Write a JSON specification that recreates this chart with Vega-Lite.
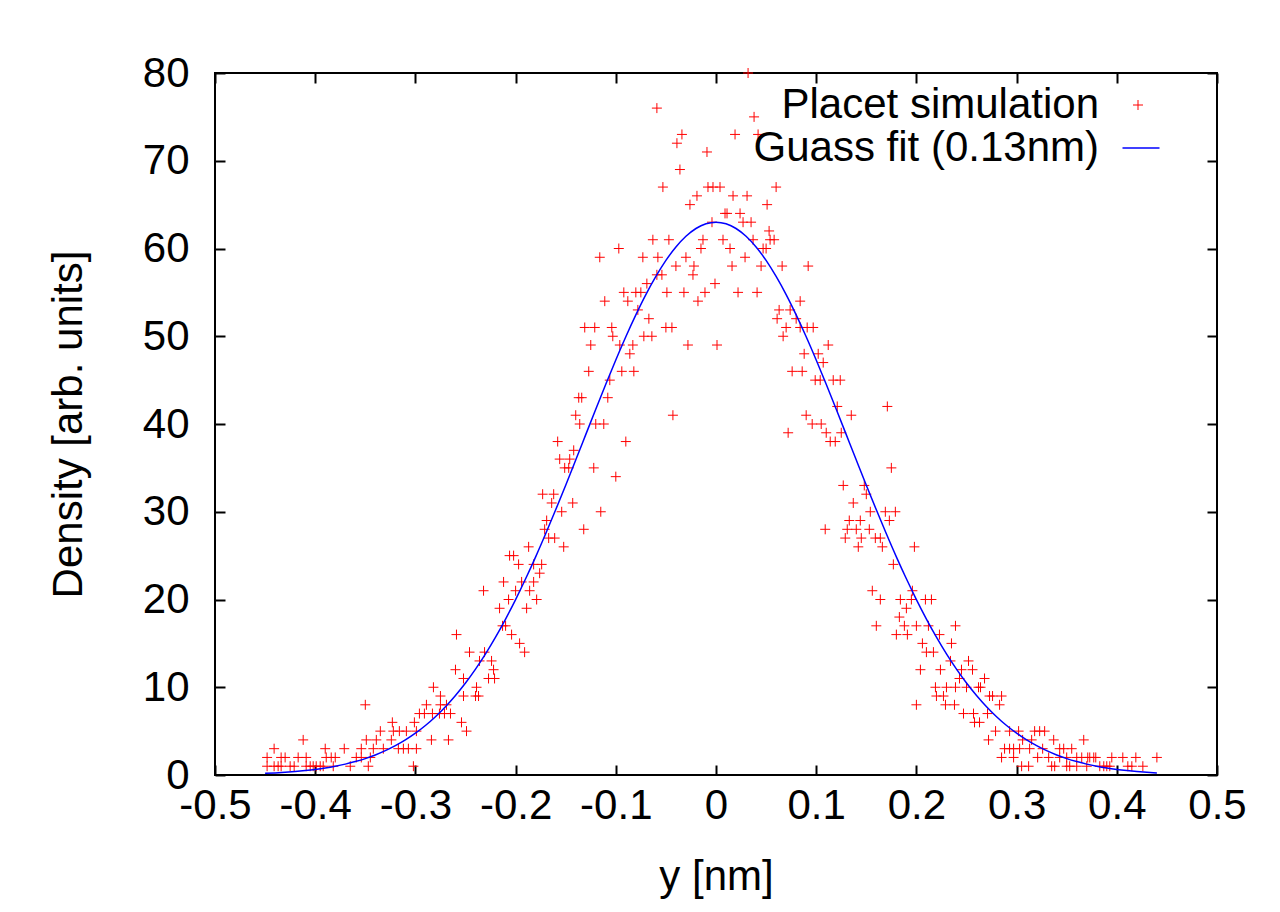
{
  "$schema": "https://vega.github.io/schema/vega-lite/v6.json",
  "width": 1002,
  "height": 702,
  "autosize": {"type": "none"},
  "padding": {"left": 215, "top": 73, "right": 63, "bottom": 137},
  "background": "#ffffff",
  "config": {
    "font": "Liberation Sans",
    "view": {"stroke": "#000000", "strokeWidth": 2},
    "axis": {
      "domain": false, "grid": false, "tickColor": "#000000", "tickWidth": 2, "tickSize": -10,
      "labelFont": "Liberation Sans", "labelFontSize": 42, "labelColor": "#000000",
      "titleFont": "Liberation Sans", "titleFontSize": 42, "titleFontWeight": "normal", "titleColor": "#000000"
    },
    "legend": {
      "labelFont": "Liberation Sans", "labelFontSize": 42, "labelColor": "#000000",
      "labelAlign": "right", "labelLimit": 0, "title": null
    }
  },
  "datasets": {
    "sim": [
      {"y_nm":-0.448,"density":1},{"y_nm":-0.441,"density":1},{"y_nm":-0.437,"density":1},{"y_nm":-0.434,"density":1},{"y_nm":-0.425,"density":1},{"y_nm":-0.421,"density":1},{"y_nm":-0.409,"density":1},{"y_nm":-0.405,"density":1},{"y_nm":-0.402,"density":1},{"y_nm":-0.399,"density":1},{"y_nm":-0.395,"density":1},{"y_nm":-0.392,"density":1},{"y_nm":-0.382,"density":1},{"y_nm":-0.365,"density":1},{"y_nm":-0.347,"density":1},{"y_nm":-0.302,"density":1},{"y_nm":0.305,"density":1},{"y_nm":0.312,"density":1},{"y_nm":0.335,"density":1},{"y_nm":0.338,"density":1},{"y_nm":0.350,"density":1},{"y_nm":0.353,"density":1},{"y_nm":0.360,"density":1},{"y_nm":0.370,"density":1},{"y_nm":0.383,"density":1},{"y_nm":0.387,"density":1},{"y_nm":0.390,"density":1},{"y_nm":0.393,"density":1},{"y_nm":0.411,"density":1},{"y_nm":0.415,"density":1},{"y_nm":0.426,"density":1},
      {"y_nm":-0.448,"density":2},{"y_nm":-0.434,"density":2},{"y_nm":-0.430,"density":2},{"y_nm":-0.417,"density":2},{"y_nm":-0.409,"density":2},{"y_nm":-0.389,"density":2},{"y_nm":-0.384,"density":2},{"y_nm":-0.380,"density":2},{"y_nm":-0.359,"density":2},{"y_nm":-0.354,"density":2},{"y_nm":-0.345,"density":2},{"y_nm":0.285,"density":2},{"y_nm":0.297,"density":2},{"y_nm":0.321,"density":2},{"y_nm":0.332,"density":2},{"y_nm":0.343,"density":2},{"y_nm":0.350,"density":2},{"y_nm":0.360,"density":2},{"y_nm":0.365,"density":2},{"y_nm":0.371,"density":2},{"y_nm":0.373,"density":2},{"y_nm":0.377,"density":2},{"y_nm":0.379,"density":2},{"y_nm":0.395,"density":2},{"y_nm":0.406,"density":2},{"y_nm":0.419,"density":2},{"y_nm":0.440,"density":2},
      {"y_nm":-0.441,"density":3},{"y_nm":-0.390,"density":3},{"y_nm":-0.371,"density":3},{"y_nm":-0.354,"density":3},{"y_nm":-0.342,"density":3},{"y_nm":-0.332,"density":3},{"y_nm":-0.317,"density":3},{"y_nm":-0.312,"density":3},{"y_nm":-0.307,"density":3},{"y_nm":-0.299,"density":3},{"y_nm":0.288,"density":3},{"y_nm":0.293,"density":3},{"y_nm":0.297,"density":3},{"y_nm":0.303,"density":3},{"y_nm":0.313,"density":3},{"y_nm":0.326,"density":3},{"y_nm":0.343,"density":3},{"y_nm":0.347,"density":3},{"y_nm":0.355,"density":3},
      {"y_nm":-0.412,"density":4},{"y_nm":-0.349,"density":4},{"y_nm":-0.339,"density":4},{"y_nm":-0.324,"density":4},{"y_nm":-0.284,"density":4},{"y_nm":-0.267,"density":4},{"y_nm":0.272,"density":4},{"y_nm":0.306,"density":4},{"y_nm":0.315,"density":4},{"y_nm":0.337,"density":4},{"y_nm":0.367,"density":4},
      {"y_nm":-0.335,"density":5},{"y_nm":-0.322,"density":5},{"y_nm":-0.316,"density":5},{"y_nm":-0.309,"density":5},{"y_nm":-0.299,"density":5},{"y_nm":-0.249,"density":5},{"y_nm":0.279,"density":5},{"y_nm":0.293,"density":5},{"y_nm":0.302,"density":5},{"y_nm":0.318,"density":5},{"y_nm":0.323,"density":5},{"y_nm":0.328,"density":5},
      {"y_nm":-0.323,"density":6},{"y_nm":-0.301,"density":6},{"y_nm":-0.254,"density":6},{"y_nm":0.258,"density":6},{"y_nm":0.263,"density":6},
      {"y_nm":-0.296,"density":7},{"y_nm":-0.291,"density":7},{"y_nm":-0.283,"density":7},{"y_nm":-0.276,"density":7},{"y_nm":-0.271,"density":7},{"y_nm":-0.265,"density":7},{"y_nm":0.247,"density":7},{"y_nm":0.257,"density":7},{"y_nm":0.271,"density":7},
      {"y_nm":-0.350,"density":8},{"y_nm":-0.289,"density":8},{"y_nm":-0.275,"density":8},{"y_nm":-0.269,"density":8},{"y_nm":0.200,"density":8},{"y_nm":0.229,"density":8},{"y_nm":0.238,"density":8},{"y_nm":0.283,"density":8},
      {"y_nm":-0.275,"density":9},{"y_nm":-0.252,"density":9},{"y_nm":-0.240,"density":9},{"y_nm":-0.237,"density":9},{"y_nm":0.220,"density":9},{"y_nm":0.227,"density":9},{"y_nm":0.273,"density":9},{"y_nm":0.276,"density":9},{"y_nm":0.285,"density":9},
      {"y_nm":-0.282,"density":10},{"y_nm":-0.239,"density":10},{"y_nm":0.219,"density":10},{"y_nm":0.230,"density":10},{"y_nm":0.239,"density":10},{"y_nm":0.250,"density":10},{"y_nm":0.262,"density":10},{"y_nm":0.264,"density":10},
      {"y_nm":-0.252,"density":11},{"y_nm":-0.227,"density":11},{"y_nm":-0.221,"density":11},{"y_nm":0.243,"density":11},{"y_nm":0.268,"density":11},
      {"y_nm":-0.260,"density":12},{"y_nm":-0.222,"density":12},{"y_nm":0.204,"density":12},{"y_nm":0.224,"density":12},{"y_nm":0.245,"density":12},{"y_nm":0.256,"density":12},
      {"y_nm":-0.236,"density":13},{"y_nm":-0.224,"density":13},{"y_nm":0.234,"density":13},{"y_nm":0.252,"density":13},
      {"y_nm":-0.246,"density":14},{"y_nm":-0.231,"density":14},{"y_nm":-0.191,"density":14},{"y_nm":0.210,"density":14},{"y_nm":0.217,"density":14},
      {"y_nm":-0.196,"density":15},{"y_nm":0.206,"density":15},{"y_nm":0.235,"density":15},
      {"y_nm":-0.259,"density":16},{"y_nm":-0.204,"density":16},{"y_nm":0.180,"density":16},{"y_nm":0.191,"density":16},{"y_nm":0.223,"density":16},
      {"y_nm":-0.213,"density":17},{"y_nm":-0.210,"density":17},{"y_nm":0.160,"density":17},{"y_nm":0.188,"density":17},{"y_nm":0.200,"density":17},{"y_nm":0.212,"density":17},{"y_nm":0.239,"density":17},
      {"y_nm":0.183,"density":18},
      {"y_nm":-0.216,"density":19},{"y_nm":-0.189,"density":19},{"y_nm":0.190,"density":19},
      {"y_nm":-0.207,"density":20},{"y_nm":-0.179,"density":20},{"y_nm":0.164,"density":20},{"y_nm":0.184,"density":20},{"y_nm":0.195,"density":20},{"y_nm":0.209,"density":20},{"y_nm":0.215,"density":20},
      {"y_nm":-0.232,"density":21},{"y_nm":-0.200,"density":21},{"y_nm":-0.186,"density":21},{"y_nm":0.156,"density":21},{"y_nm":0.196,"density":21},
      {"y_nm":-0.212,"density":22},{"y_nm":-0.194,"density":22},{"y_nm":-0.182,"density":22},
      {"y_nm":-0.176,"density":23},
      {"y_nm":-0.197,"density":24},{"y_nm":-0.182,"density":24},{"y_nm":-0.174,"density":24},{"y_nm":0.177,"density":24},
      {"y_nm":-0.206,"density":25},{"y_nm":-0.202,"density":25},
      {"y_nm":-0.187,"density":26},{"y_nm":-0.152,"density":26},{"y_nm":0.142,"density":26},{"y_nm":0.166,"density":26},{"y_nm":0.198,"density":26},
      {"y_nm":-0.167,"density":27},{"y_nm":-0.161,"density":27},{"y_nm":0.129,"density":27},{"y_nm":0.145,"density":27},{"y_nm":0.159,"density":27},{"y_nm":0.164,"density":27},
      {"y_nm":-0.171,"density":28},{"y_nm":-0.132,"density":28},{"y_nm":0.109,"density":28},{"y_nm":0.131,"density":28},{"y_nm":0.140,"density":28},{"y_nm":0.153,"density":28},
      {"y_nm":-0.169,"density":29},{"y_nm":0.133,"density":29},{"y_nm":0.144,"density":29},{"y_nm":0.173,"density":29},
      {"y_nm":-0.154,"density":30},{"y_nm":-0.115,"density":30},{"y_nm":0.154,"density":30},{"y_nm":0.169,"density":30},{"y_nm":0.179,"density":30},
      {"y_nm":-0.164,"density":31},{"y_nm":-0.143,"density":31},{"y_nm":0.137,"density":31},
      {"y_nm":-0.173,"density":32},{"y_nm":-0.162,"density":32},{"y_nm":0.150,"density":32},
      {"y_nm":0.127,"density":33},{"y_nm":0.148,"density":33},
      {"y_nm":-0.100,"density":34},
      {"y_nm":-0.151,"density":35},{"y_nm":-0.147,"density":35},{"y_nm":-0.122,"density":35},{"y_nm":0.175,"density":35},
      {"y_nm":-0.156,"density":36},{"y_nm":-0.146,"density":36},
      {"y_nm":-0.142,"density":37},
      {"y_nm":-0.158,"density":38},{"y_nm":-0.090,"density":38},{"y_nm":0.114,"density":38},{"y_nm":0.119,"density":38},
      {"y_nm":0.072,"density":39},{"y_nm":0.110,"density":39},{"y_nm":0.125,"density":39},
      {"y_nm":-0.136,"density":40},{"y_nm":-0.120,"density":40},{"y_nm":-0.112,"density":40},{"y_nm":0.096,"density":40},{"y_nm":0.105,"density":40},
      {"y_nm":-0.140,"density":41},{"y_nm":-0.043,"density":41},{"y_nm":0.090,"density":41},{"y_nm":0.135,"density":41},
      {"y_nm":0.121,"density":42},{"y_nm":0.171,"density":42},
      {"y_nm":-0.137,"density":43},{"y_nm":-0.134,"density":43},{"y_nm":-0.108,"density":43},
      {"y_nm":-0.106,"density":45},{"y_nm":0.099,"density":45},{"y_nm":0.104,"density":45},{"y_nm":0.117,"density":45},{"y_nm":0.124,"density":45},
      {"y_nm":-0.127,"density":46},{"y_nm":-0.094,"density":46},{"y_nm":-0.082,"density":46},{"y_nm":0.076,"density":46},{"y_nm":0.086,"density":46},
      {"y_nm":0.107,"density":47},
      {"y_nm":-0.086,"density":48},{"y_nm":0.088,"density":48},{"y_nm":0.102,"density":48},
      {"y_nm":-0.125,"density":49},{"y_nm":-0.096,"density":49},{"y_nm":-0.083,"density":49},{"y_nm":-0.028,"density":49},{"y_nm":0.001,"density":49},{"y_nm":0.112,"density":49},
      {"y_nm":-0.103,"density":50},{"y_nm":-0.072,"density":50},{"y_nm":-0.064,"density":50},{"y_nm":0.067,"density":50},
      {"y_nm":-0.131,"density":51},{"y_nm":-0.121,"density":51},{"y_nm":-0.104,"density":51},{"y_nm":-0.050,"density":51},{"y_nm":-0.044,"density":51},{"y_nm":0.070,"density":51},{"y_nm":0.084,"density":51},{"y_nm":0.091,"density":51},{"y_nm":0.097,"density":51},
      {"y_nm":-0.067,"density":52},{"y_nm":0.061,"density":52},{"y_nm":0.080,"density":52},
      {"y_nm":-0.078,"density":53},{"y_nm":0.063,"density":53},{"y_nm":0.074,"density":53},
      {"y_nm":-0.111,"density":54},{"y_nm":-0.088,"density":54},{"y_nm":-0.018,"density":54},{"y_nm":0.084,"density":54},
      {"y_nm":-0.092,"density":55},{"y_nm":-0.080,"density":55},{"y_nm":-0.075,"density":55},{"y_nm":-0.049,"density":55},{"y_nm":-0.032,"density":55},{"y_nm":-0.011,"density":55},{"y_nm":0.022,"density":55},{"y_nm":0.041,"density":55},
      {"y_nm":-0.069,"density":56},{"y_nm":-0.001,"density":56},
      {"y_nm":-0.059,"density":57},{"y_nm":-0.054,"density":57},{"y_nm":-0.023,"density":57},
      {"y_nm":-0.040,"density":58},{"y_nm":-0.022,"density":58},{"y_nm":0.016,"density":58},{"y_nm":0.045,"density":58},{"y_nm":0.066,"density":58},{"y_nm":0.092,"density":58},
      {"y_nm":-0.116,"density":59},{"y_nm":-0.073,"density":59},{"y_nm":-0.058,"density":59},{"y_nm":-0.030,"density":59},{"y_nm":0.029,"density":59},
      {"y_nm":-0.097,"density":60},{"y_nm":-0.015,"density":60},{"y_nm":0.014,"density":60},{"y_nm":0.047,"density":60},{"y_nm":0.050,"density":60},
      {"y_nm":-0.063,"density":61},{"y_nm":-0.047,"density":61},{"y_nm":-0.013,"density":61},{"y_nm":0.007,"density":61},{"y_nm":0.037,"density":61},{"y_nm":0.054,"density":61},{"y_nm":0.058,"density":61},
      {"y_nm":0.053,"density":62},
      {"y_nm":-0.004,"density":63},{"y_nm":0.027,"density":63},{"y_nm":0.035,"density":63},
      {"y_nm":0.009,"density":64},{"y_nm":0.011,"density":64},{"y_nm":0.024,"density":64},
      {"y_nm":-0.026,"density":65},{"y_nm":0.051,"density":65},
      {"y_nm":-0.019,"density":66},{"y_nm":0.017,"density":66},{"y_nm":0.031,"density":66},
      {"y_nm":-0.053,"density":67},{"y_nm":-0.008,"density":67},{"y_nm":-0.003,"density":67},{"y_nm":0.004,"density":67},{"y_nm":0.060,"density":67},
      {"y_nm":-0.036,"density":69},
      {"y_nm":-0.009,"density":71},
      {"y_nm":-0.039,"density":72},
      {"y_nm":-0.034,"density":73},{"y_nm":0.019,"density":73},{"y_nm":0.042,"density":73},
      {"y_nm":0.038,"density":75},
      {"y_nm":-0.059,"density":76},
      {"y_nm":0.032,"density":80}
    ],
    "fit": [
      {"y_nm":-0.45,"density":0.19},{"y_nm":-0.44,"density":0.24},{"y_nm":-0.43,"density":0.31},{"y_nm":-0.42,"density":0.40},{"y_nm":-0.41,"density":0.51},{"y_nm":-0.40,"density":0.64},{"y_nm":-0.39,"density":0.80},{"y_nm":-0.38,"density":1.00},{"y_nm":-0.37,"density":1.24},{"y_nm":-0.36,"density":1.53},{"y_nm":-0.35,"density":1.87},{"y_nm":-0.34,"density":2.28},{"y_nm":-0.33,"density":2.77},{"y_nm":-0.32,"density":3.34},{"y_nm":-0.31,"density":4.00},{"y_nm":-0.30,"density":4.76},{"y_nm":-0.29,"density":5.64},{"y_nm":-0.28,"density":6.64},{"y_nm":-0.27,"density":7.78},{"y_nm":-0.26,"density":9.06},{"y_nm":-0.25,"density":10.48},{"y_nm":-0.24,"density":12.06},{"y_nm":-0.23,"density":13.80},{"y_nm":-0.22,"density":15.71},{"y_nm":-0.21,"density":17.77},{"y_nm":-0.20,"density":19.99},{"y_nm":-0.19,"density":22.36},{"y_nm":-0.18,"density":24.86},{"y_nm":-0.17,"density":27.49},{"y_nm":-0.16,"density":30.22},{"y_nm":-0.15,"density":33.03},{"y_nm":-0.14,"density":35.90},{"y_nm":-0.13,"density":38.79},{"y_nm":-0.12,"density":41.68},{"y_nm":-0.11,"density":44.52},{"y_nm":-0.10,"density":47.29},{"y_nm":-0.09,"density":49.94},{"y_nm":-0.08,"density":52.43},{"y_nm":-0.07,"density":54.74},{"y_nm":-0.06,"density":56.81},{"y_nm":-0.05,"density":58.64},{"y_nm":-0.04,"density":60.17},{"y_nm":-0.03,"density":61.39},{"y_nm":-0.02,"density":62.28},{"y_nm":-0.01,"density":62.82},{"y_nm":0.00,"density":63.00},
      {"y_nm":0.01,"density":62.82},{"y_nm":0.02,"density":62.28},{"y_nm":0.03,"density":61.39},{"y_nm":0.04,"density":60.17},{"y_nm":0.05,"density":58.64},{"y_nm":0.06,"density":56.81},{"y_nm":0.07,"density":54.74},{"y_nm":0.08,"density":52.43},{"y_nm":0.09,"density":49.94},{"y_nm":0.10,"density":47.29},{"y_nm":0.11,"density":44.52},{"y_nm":0.12,"density":41.68},{"y_nm":0.13,"density":38.79},{"y_nm":0.14,"density":35.90},{"y_nm":0.15,"density":33.03},{"y_nm":0.16,"density":30.22},{"y_nm":0.17,"density":27.49},{"y_nm":0.18,"density":24.86},{"y_nm":0.19,"density":22.36},{"y_nm":0.20,"density":19.99},{"y_nm":0.21,"density":17.77},{"y_nm":0.22,"density":15.71},{"y_nm":0.23,"density":13.80},{"y_nm":0.24,"density":12.06},{"y_nm":0.25,"density":10.48},{"y_nm":0.26,"density":9.06},{"y_nm":0.27,"density":7.78},{"y_nm":0.28,"density":6.64},{"y_nm":0.29,"density":5.64},{"y_nm":0.30,"density":4.76},{"y_nm":0.31,"density":4.00},{"y_nm":0.32,"density":3.34},{"y_nm":0.33,"density":2.77},{"y_nm":0.34,"density":2.28},{"y_nm":0.35,"density":1.87},{"y_nm":0.36,"density":1.53},{"y_nm":0.37,"density":1.24},{"y_nm":0.38,"density":1.00},{"y_nm":0.39,"density":0.80},{"y_nm":0.40,"density":0.64},{"y_nm":0.41,"density":0.51},{"y_nm":0.42,"density":0.40},{"y_nm":0.43,"density":0.31},{"y_nm":0.44,"density":0.24}
    ]
  },
  "layer": [
    {
      "data": {"name": "sim"},
      "mark": {"type": "point", "shape": "M-1,0L1,0M0,-1L0,1", "filled": false, "size": 100, "strokeWidth": 1, "opacity": 1},
      "encoding": {
        "x": {
          "field": "y_nm", "type": "quantitative",
          "scale": {"domain": [-0.5, 0.5], "nice": false, "zero": false},
          "axis": {"orient": "bottom", "title": "y [nm]", "values": [-0.5,-0.4,-0.3,-0.2,-0.1,0,0.1,0.2,0.3,0.4,0.5],
                   "labelExpr": "replace(format(datum.value, '~g'), '\u2212', '-')", "labelPadding": 20, "titlePadding": 30, "labelFlush": false,
                   "encode": {"labels": {"update": {"dx": {"signal": "datum.value < 0 ? -6 : 0"}}}}}
        },
        "y": {
          "field": "density", "type": "quantitative",
          "scale": {"domain": [0, 80], "nice": false},
          "axis": {"orient": "left", "title": "Density [arb. units]", "values": [0,10,20,30,40,50,60,70,80], "labelPadding": 36, "titlePadding": 52, "labelFlush": false}
        },
        "color": {
          "datum": "Placet simulation", "type": "nominal",
          "scale": {"domain": ["Placet simulation"], "range": ["#ff0000"]},
          "legend": {
            "orient": "none", "legendX": 902, "legendY": 11,
            "symbolType": "M-1,0L1,0M0,-1L0,1", "symbolSize": 100, "symbolStrokeWidth": 1,
            "labelOffset": -60
          }
        }
      }
    },
    {
      "data": {"name": "fit"},
      "mark": {"type": "line", "strokeWidth": 1.5, "interpolate": "monotone"},
      "encoding": {
        "x": {"field": "y_nm", "type": "quantitative", "axis": {"orient": "top", "title": null, "labels": false, "values": [-0.5,-0.4,-0.3,-0.2,-0.1,0,0.1,0.2,0.3,0.4,0.5]}},
        "y": {"field": "density", "type": "quantitative", "axis": {"orient": "right", "title": null, "labels": false, "values": [0,10,20,30,40,50,60,70,80]}},
        "stroke": {
          "datum": "Guass fit (0.13nm)", "type": "nominal",
          "scale": {"domain": ["Guass fit (0.13nm)"], "range": ["#0000ff"]},
          "legend": {
            "orient": "none", "legendX": 905, "legendY": 54,
            "symbolType": "stroke", "symbolSize": 1369, "symbolStrokeWidth": 1.5,
            "labelOffset": -63
          }
        }
      }
    }
  ],
  "resolve": {"axis": {"x": "independent", "y": "independent"}}
}
